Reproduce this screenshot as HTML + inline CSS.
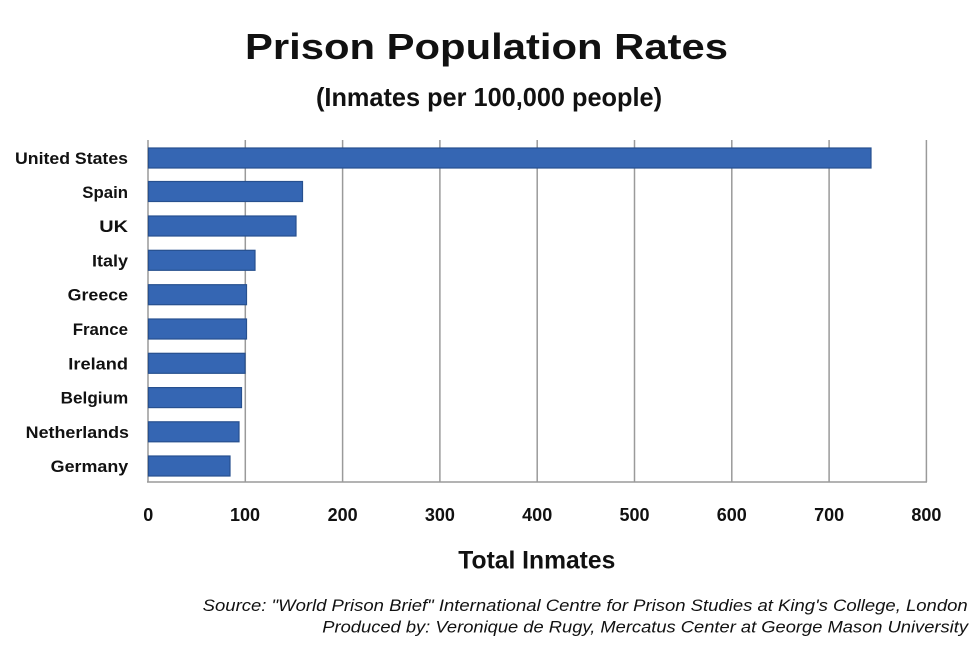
<!DOCTYPE html>
<html>
<head>
<meta charset="utf-8">
<style>
html,body{margin:0;padding:0;background:#fff;}
body{width:980px;height:654px;overflow:hidden;}
svg{display:block;}
text{font-family:"Liberation Sans",Arial,sans-serif;fill:#111;}
</style>
</head>
<body>
<svg width="980" height="654" viewBox="0 0 980 654" xmlns="http://www.w3.org/2000/svg">
  <rect x="0" y="0" width="980" height="654" fill="#ffffff"/>
  <!-- Title -->
  <text x="245" y="59" font-size="36" font-weight="bold" textLength="483" lengthAdjust="spacingAndGlyphs">Prison Population Rates</text>
  <text x="316" y="106" font-size="26" font-weight="bold" textLength="346" lengthAdjust="spacingAndGlyphs">(Inmates per 100,000 people)</text>

  <!-- Gridlines -->
  <g stroke="#9a9a9a" stroke-width="1.5">
    <line x1="148" y1="140" x2="148" y2="482"/>
    <line x1="245.3" y1="140" x2="245.3" y2="482"/>
    <line x1="342.6" y1="140" x2="342.6" y2="482"/>
    <line x1="439.9" y1="140" x2="439.9" y2="482"/>
    <line x1="537.2" y1="140" x2="537.2" y2="482"/>
    <line x1="634.5" y1="140" x2="634.5" y2="482"/>
    <line x1="731.8" y1="140" x2="731.8" y2="482"/>
    <line x1="829.1" y1="140" x2="829.1" y2="482"/>
    <line x1="926.4" y1="140" x2="926.4" y2="482"/>
    <line x1="147" y1="482" x2="927" y2="482"/>
  </g>

  <!-- Bars -->
  <g fill="#3566b3" stroke="#27508f" stroke-width="1.2">
    <rect x="148.5" y="148" width="722.5" height="20"/>
    <rect x="148.5" y="181.5" width="154" height="20"/>
    <rect x="148.5" y="216" width="147.5" height="20"/>
    <rect x="148.5" y="250.3" width="106.5" height="20"/>
    <rect x="148.5" y="284.7" width="98" height="20"/>
    <rect x="148.5" y="319" width="98" height="20"/>
    <rect x="148.5" y="353.3" width="96.5" height="20"/>
    <rect x="148.5" y="387.6" width="93" height="20"/>
    <rect x="148.5" y="421.8" width="90.5" height="20"/>
    <rect x="148.5" y="456" width="81.5" height="20"/>
  </g>

  <!-- Category labels -->
  <g font-size="17" font-weight="bold">
    <text x="15" y="164" textLength="113" lengthAdjust="spacingAndGlyphs">United States</text>
    <text x="82.3" y="198" textLength="45.7" lengthAdjust="spacingAndGlyphs">Spain</text>
    <text x="99.3" y="232" textLength="28.7" lengthAdjust="spacingAndGlyphs">UK</text>
    <text x="92" y="266.3" textLength="36" lengthAdjust="spacingAndGlyphs">Italy</text>
    <text x="67.7" y="300.7" textLength="60.3" lengthAdjust="spacingAndGlyphs">Greece</text>
    <text x="72.7" y="335" textLength="55.3" lengthAdjust="spacingAndGlyphs">France</text>
    <text x="68.3" y="369.3" textLength="59.7" lengthAdjust="spacingAndGlyphs">Ireland</text>
    <text x="60.7" y="403.6" textLength="67.5" lengthAdjust="spacingAndGlyphs">Belgium</text>
    <text x="25.7" y="437.8" textLength="103.3" lengthAdjust="spacingAndGlyphs">Netherlands</text>
    <text x="50.7" y="472" textLength="77.5" lengthAdjust="spacingAndGlyphs">Germany</text>
  </g>

  <!-- X tick labels -->
  <g font-size="18" font-weight="bold" text-anchor="middle">
    <text x="148.3" y="521">0</text>
    <text x="245" y="521">100</text>
    <text x="342.6" y="521">200</text>
    <text x="439.9" y="521">300</text>
    <text x="537.2" y="521">400</text>
    <text x="634.5" y="521">500</text>
    <text x="731.8" y="521">600</text>
    <text x="829.1" y="521">700</text>
    <text x="926.4" y="521">800</text>
  </g>

  <!-- Axis title -->
  <text x="458.3" y="568.3" font-size="25" font-weight="bold" textLength="157" lengthAdjust="spacingAndGlyphs">Total Inmates</text>

  <!-- Source -->
  <g font-size="17" font-style="italic" fill="#1a1a1a">
    <text x="202.7" y="611" textLength="765" lengthAdjust="spacingAndGlyphs">Source: "World Prison Brief" International  Centre for Prison Studies at King's College, London</text>
    <text x="322.3" y="632.7" textLength="645.7" lengthAdjust="spacingAndGlyphs">Produced by: Veronique de Rugy, Mercatus Center at George Mason University</text>
  </g>
</svg>
</body>
</html>
